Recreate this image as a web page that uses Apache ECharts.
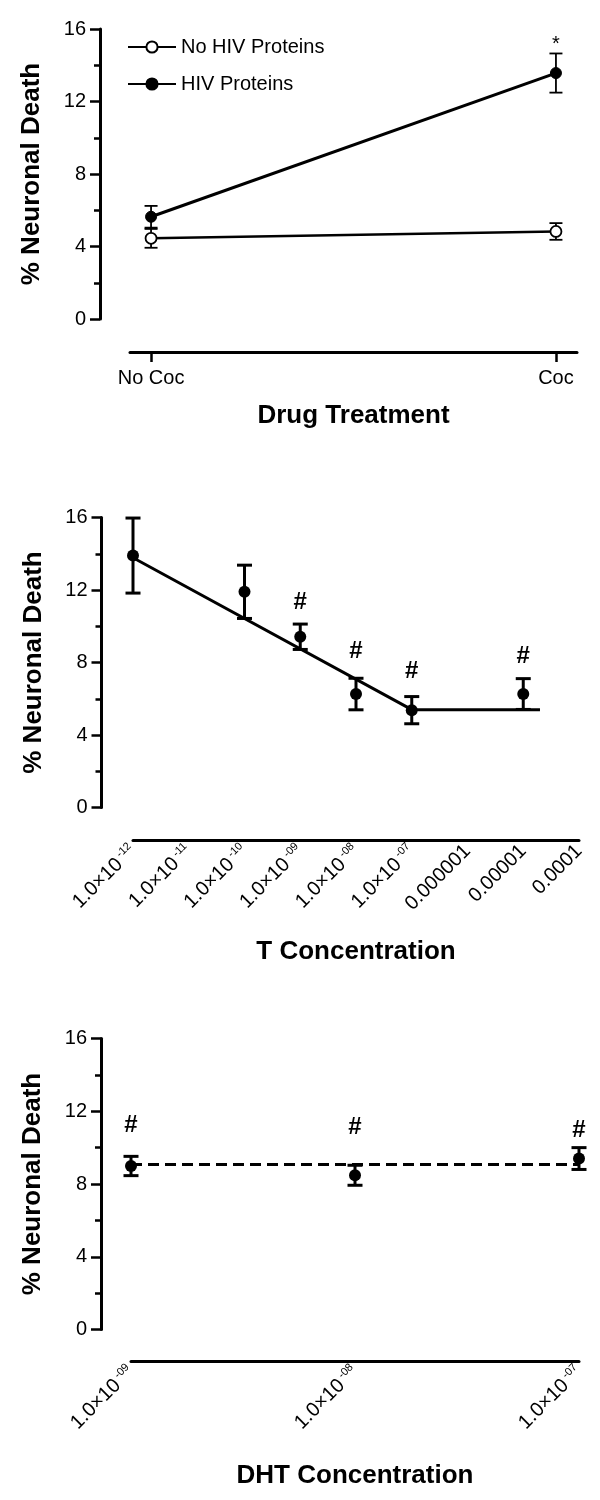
<!DOCTYPE html>
<html>
<head>
<meta charset="utf-8">
<script src="https://cdn.jsdelivr.net/npm/echarts@6/dist/echarts.min.js"></script>
<style>
html,body{margin:0;padding:0;background:#fff;}
#chart{width:600px;height:1500px;}
</style>
</head>
<body>
<div id="chart"></div>
<script>
// ---------- Panel 1: Drug treatment ----------
const drugCats = ['No Coc', 'Coc'];
const drugX = [0, 1];
const noHivMean = [4.45, 4.83];
const noHivErr = [0.52, 0.46];
const hivMean = [5.64, 13.57];
const hivErr = [0.6, 1.08];
const drugSig = ['', '*'];
const drugSigY = [null, 15.15];

// ---------- Panel 2: T concentration (log10 M) ----------
const tTicks = [-12, -11, -10, -9, -8, -7, -6, -5, -4];
const tTickMain = ['1.0×10', '1.0×10', '1.0×10', '1.0×10', '1.0×10', '1.0×10', '0.000001', '0.00001', '0.0001'];
const tTickSup = ['-12', '-11', '-10', '-09', '-08', '-07', '', '', ''];
const tLogConc = [-12, -10, -9, -8, -7, -5];
const tMean = [13.9, 11.9, 9.42, 6.26, 5.37, 6.26];
const tErr = [2.07, 1.47, 0.7, 0.87, 0.75, 0.85];
const tSig = ['', '', '#', '#', '#', '#'];
const tSigY = [null, null, 11.34, 8.59, 7.49, 8.32];
const tFitX = [-12.25, -7, -4.7];
const tFitY = [14.2, 5.4, 5.4];

// ---------- Panel 3: DHT concentration (log10 M) ----------
const dhtTicks = [-9, -8, -7];
const dhtTickMain = ['1.0×10', '1.0×10', '1.0×10'];
const dhtTickSup = ['-09', '-08', '-07'];
const dhtLogConc = [-9, -8, -7];
const dhtMean = [8.99, 8.48, 9.4];
const dhtErr = [0.53, 0.55, 0.6];
const dhtSig = ['#', '#', '#'];
const dhtSigY = [11.22, 11.13, 10.96];
const dhtFitX = [-9, -7];
const dhtFitY = [9.07, 9.07];

const yTicks = [0, 4, 8, 12, 16];

const FONT = 'Liberation Sans, Arial, sans-serif';
const chart = echarts.init(document.getElementById('chart'), null, {renderer: 'canvas'});

function zip(xs, ys) { return xs.map((x, i) => [x, ys[i]]); }
function errData(xs, m, e) { return xs.map((x, i) => [x, m[i], e[i]]); }
function sigData(xs, ys, sig) {
  const out = [];
  xs.forEach((x, i) => { if (sig[i]) out.push({value: [x, ys[i]], sym: sig[i]}); });
  return out;
}

function errSeries(idx, data, capW, lw) {
  return {
    type: 'custom', xAxisIndex: idx, yAxisIndex: idx, z: 1,
    data: data, encode: {x: 0, y: 1}, silent: true,
    renderItem: function (params, api) {
      const x = api.value(0), m = api.value(1), e = api.value(2);
      const t = api.coord([x, m + e]);
      const b = api.coord([x, m - e]);
      const st = {stroke: '#000', lineWidth: lw};
      return {type: 'group', children: [
        {type: 'line', shape: {x1: t[0], y1: t[1], x2: b[0], y2: b[1]}, style: st},
        {type: 'line', shape: {x1: t[0] - capW / 2, y1: t[1], x2: t[0] + capW / 2, y2: t[1]}, style: st},
        {type: 'line', shape: {x1: b[0] - capW / 2, y1: b[1], x2: b[0] + capW / 2, y2: b[1]}, style: st}
      ]};
    }
  };
}

function sigSeries(idx, items, size, weight) {
  return {
    type: 'custom', xAxisIndex: idx, yAxisIndex: idx, z: 5, silent: true,
    data: items.map(d => d.value), encode: {x: 0, y: 1},
    renderItem: function (params, api) {
      const p = api.coord([api.value(0), api.value(1)]);
      return {type: 'text', x: p[0], y: p[1], style: {
        text: items[params.dataIndex].sym, fill: '#000',
        font: weight + ' ' + size + 'px ' + FONT, textAlign: 'center', textVerticalAlign: 'middle'
      }};
    }
  };
}

function yAxisCfg(idx, offset) {
  return {
    type: 'value', gridIndex: idx, min: 0, max: 16, interval: 4, offset: offset,
    name: '% Neuronal Death', nameLocation: 'middle', nameGap: 55,
    nameTextStyle: {fontFamily: FONT, fontSize: 26, fontWeight: 'bold', color: '#000'},
    axisLine: {show: true, onZero: false, lineStyle: {color: '#000', width: 3}},
    axisTick: {show: true, length: 10, lineStyle: {color: '#000', width: 2.5}},
    minorTick: {show: true, splitNumber: 2, length: 6, lineStyle: {color: '#000', width: 2.5}},
    splitLine: {show: false},
    axisLabel: {fontFamily: FONT, fontSize: 20, color: '#000', margin: 14}
  };
}

const supRich = {
  m: {fontFamily: FONT, fontSize: 20, color: '#000'},
  s: {fontFamily: FONT, fontSize: 11, color: '#000', verticalAlign: 'top', padding: [0, 0, 10, 3]}
};
function logLabel(ticks, main, sup) {
  return function (v) {
    const i = ticks.indexOf(Math.round(v));
    if (i < 0) return '';
    return sup[i] ? '{m|' + main[i] + '}{s|' + sup[i] + '}' : '{m|' + main[i] + '}';
  };
}

const option = {
  backgroundColor: '#fff',
  animation: false,
  textStyle: {fontFamily: FONT},
  grid: [
    {left: 130, width: 447, top: 29, height: 290},
    {left: 133, width: 446, top: 517.5, height: 290},
    {left: 131, width: 448, top: 1038.5, height: 291}
  ],
  legend: {
    left: 127, top: 37, padding: 0, orient: 'vertical', itemWidth: 48, itemHeight: 14, itemGap: 17,
    textStyle: {fontFamily: FONT, fontSize: 20, color: '#000'},
    data: ['No HIV Proteins', 'HIV Proteins']
  },
  xAxis: [
    {
      type: 'value', gridIndex: 0, min: -0.052, max: 1.052, offset: 33,
      name: 'Drug Treatment', nameLocation: 'middle', nameGap: 51,
      nameTextStyle: {fontFamily: FONT, fontSize: 26, fontWeight: 'bold', color: '#000'},
      axisLine: {show: true, onZero: false, lineStyle: {color: '#000', width: 3}},
      axisTick: {show: true, length: 10, customValues: drugX, lineStyle: {color: '#000', width: 2.5}},
      axisLabel: {customValues: drugX, fontFamily: FONT, fontSize: 20, color: '#000', margin: 16,
        formatter: v => drugCats[drugX.indexOf(Math.round(v))] || ''},
      splitLine: {show: false}
    },
    {
      type: 'value', gridIndex: 1, min: -12, max: -4, interval: 1, offset: 32.5,
      name: 'T Concentration', nameLocation: 'middle', nameGap: 99,
      nameTextStyle: {fontFamily: FONT, fontSize: 26, fontWeight: 'bold', color: '#000'},
      axisLine: {show: true, onZero: false, lineStyle: {color: '#000', width: 3}},
      axisTick: {show: false},
      axisLabel: {rotate: 45, margin: 8, formatter: logLabel(tTicks, tTickMain, tTickSup), rich: supRich,
        showMinLabel: true, showMaxLabel: true},
      splitLine: {show: false}
    },
    {
      type: 'value', gridIndex: 2, min: -9, max: -7, interval: 1, offset: 31.5,
      name: 'DHT Concentration', nameLocation: 'middle', nameGap: 102,
      nameTextStyle: {fontFamily: FONT, fontSize: 26, fontWeight: 'bold', color: '#000'},
      axisLine: {show: true, onZero: false, lineStyle: {color: '#000', width: 3}},
      axisTick: {show: false},
      axisLabel: {rotate: 45, margin: 8, formatter: logLabel(dhtTicks, dhtTickMain, dhtTickSup), rich: supRich,
        showMinLabel: true, showMaxLabel: true},
      splitLine: {show: false}
    }
  ],
  yAxis: [yAxisCfg(0, 30), yAxisCfg(1, 31.5), yAxisCfg(2, 30)],
  series: [
    // panel 1
    errSeries(0, errData(drugX, noHivMean, noHivErr), 13, 1.8),
    errSeries(0, errData(drugX, hivMean, hivErr), 13, 1.8),
    {
      name: 'No HIV Proteins', type: 'line', xAxisIndex: 0, yAxisIndex: 0, z: 3,
      data: zip(drugX, noHivMean), symbol: 'circle', symbolSize: 11,
      lineStyle: {color: '#000', width: 2.5},
      itemStyle: {color: '#fff', borderColor: '#000', borderWidth: 1.8}
    },
    {
      name: 'HIV Proteins', type: 'line', xAxisIndex: 0, yAxisIndex: 0, z: 3,
      data: zip(drugX, hivMean), symbol: 'circle', symbolSize: 11,
      lineStyle: {color: '#000', width: 3},
      itemStyle: {color: '#000', borderColor: '#000', borderWidth: 1}
    },
    sigSeries(0, sigData(drugX, drugSigY, drugSig), 20, 'normal'),
    // panel 2
    {
      type: 'line', xAxisIndex: 1, yAxisIndex: 1, z: 2, clip: false,
      data: zip(tFitX, tFitY), symbol: 'none', lineStyle: {color: '#000', width: 3}
    },
    errSeries(1, errData(tLogConc, tMean, tErr), 15, 3),
    {
      type: 'scatter', xAxisIndex: 1, yAxisIndex: 1, z: 3,
      data: zip(tLogConc, tMean), symbol: 'circle', symbolSize: 12,
      itemStyle: {color: '#000', opacity: 1}
    },
    sigSeries(1, sigData(tLogConc, tSigY, tSig), 24, 'bold'),
    // panel 3
    {
      type: 'line', xAxisIndex: 2, yAxisIndex: 2, z: 2, clip: false,
      data: zip(dhtFitX, dhtFitY), symbol: 'none',
      lineStyle: {color: '#000', width: 3, type: [11, 6]}
    },
    errSeries(2, errData(dhtLogConc, dhtMean, dhtErr), 15, 3),
    {
      type: 'scatter', xAxisIndex: 2, yAxisIndex: 2, z: 3,
      data: zip(dhtLogConc, dhtMean), symbol: 'circle', symbolSize: 12,
      itemStyle: {color: '#000', opacity: 1}
    },
    sigSeries(2, sigData(dhtLogConc, dhtSigY, dhtSig), 24, 'bold')
  ]
};
chart.setOption(option);
</script>
</body>
</html>
